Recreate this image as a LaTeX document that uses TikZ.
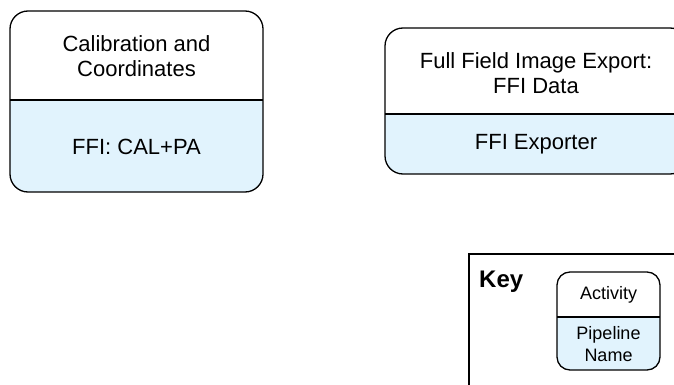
\documentclass[tikz,border=0pt]{standalone}
\usepackage{fontspec}
\setmainfont{Liberation Sans}
\definecolor{pipeblue}{HTML}{E1F3FD}
\begin{document}
\begin{tikzpicture}[x=1pt,y=-1pt,
  outline/.style={draw=black,line width=1.3pt},
  bigtext/.style={align=center,font=\fontsize{22}{25}\selectfont,inner sep=0pt},
  smalltext/.style={align=center,font=\fontsize{18}{22}\selectfont,inner sep=0pt},
  keytext/.style={font=\fontsize{24}{28}\selectfont\bfseries,inner sep=0pt,anchor=west}]
\useasboundingbox (0,0) rectangle (674,385);
\clip (0,0) rectangle (674,385);
% Box 1
\begin{scope}
\clip[rounded corners=18pt] (10,11) rectangle (263,192);
\fill[pipeblue] (10,100) rectangle (263,192);
\end{scope}
\draw[outline,rounded corners=18pt] (10,11) rectangle (263,192);
\draw[outline] (10,100) -- (263,100);
\node[bigtext] (cal) at (136.5,56) {Calibration and\\Coordinates};
\node[bigtext] (calpipe) at (136.5,147) {FFI: CAL+PA};
% Box 2
\begin{scope}
\clip[rounded corners=18pt] (385,28) rectangle (688,174);
\fill[pipeblue] (385,114) rectangle (688,174);
\end{scope}
\draw[outline,rounded corners=18pt] (385,28) rectangle (688,174);
\draw[outline] (385,114) -- (688,114);
\node[bigtext] (ffi) at (536,73) {Full Field Image Export:\\FFI Data};
\node[bigtext] (ffipipe) at (536,144) {FFI Exporter};
% Key
\draw[outline] (469,400) -- (469,254) -- (690,254);
\node[keytext] (key) at (479,282) {Key};
\begin{scope}
\clip[rounded corners=13pt] (557,272) rectangle (660,370);
\fill[pipeblue] (557,317) rectangle (660,370);
\end{scope}
\draw[outline,rounded corners=13pt] (557,272) rectangle (660,370);
\draw[outline] (557,317) -- (660,317);
\node[smalltext] (act) at (608.5,295) {Activity};
\node[smalltext] (pipe) at (608.5,344) {Pipeline\\Name};
\end{tikzpicture}
\end{document}
